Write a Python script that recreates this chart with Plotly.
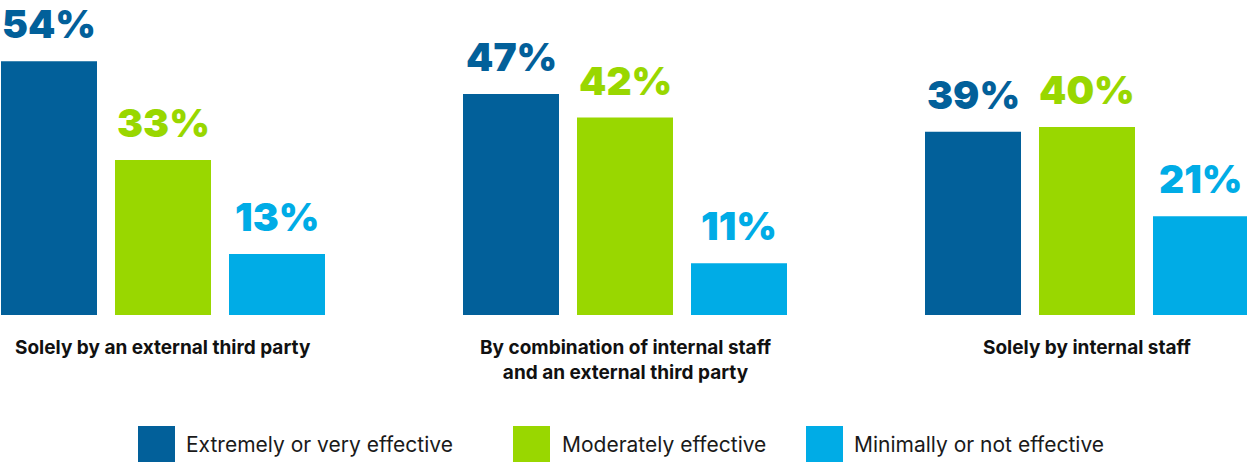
import plotly.graph_objects as go

# Survey results: how effective the approach is, by who carries it out
categories = [
    "Solely by an external third party",
    "By combination of internal staff<br>and an external third party",
    "Solely by internal staff",
]
series_names = ["Extremely or very effective", "Moderately effective", "Minimally or not effective"]
extremely_very = [54, 47, 39]
moderately = [33, 42, 40]
minimally_not = [13, 11, 21]
series_values = [extremely_very, moderately, minimally_not]
colors = ["#02609A", "#99D700", "#00ACE6"]

GROUP_PX = 462.0          # pixel distance between category centres
OFFSET = 114.0 / GROUP_PX  # centre-to-centre spacing of bars within a group
BAR_W = 96.0 / GROUP_PX
W, H = 1247, 462
BASE_Y = 315              # pixel row of the baseline
PX_PER_PCT = 4.70

fig = go.Figure()
annotations = []
for s, (name, vals, col) in enumerate(zip(series_names, series_values, colors)):
    xs = [i + (s - 1) * OFFSET for i in range(len(categories))]
    fig.add_trace(go.Bar(
        x=xs, y=vals, width=BAR_W, name=name,
        marker=dict(color=col, line=dict(width=0)),
        showlegend=False, hoverinfo="skip",
    ))
    for x, v in zip(xs, vals):
        annotations.append(dict(
            x=x, y=v, xref="x", yref="y", text=f"{v}%",
            showarrow=False, xanchor="center", yanchor="bottom", yshift=12,
            font=dict(family="Inter", size=39, color=col, weight=900),
        ))

# category labels under each group
for i, cat in enumerate(categories):
    annotations.append(dict(
        x=i, y=0, xref="x", yref="paper", text=f"<b>{cat}</b>",
        showarrow=False, xanchor="center", yanchor="top", yshift=-19,
        align="center",
        font=dict(family="Inter", size=19, color="#111111"),
    ))

# legend drawn as large swatches with labels
shapes = []
legend_sq_x = [138, 513, 806]
legend_txt_x = [184, 560, 852]
def py(p):
    return (BASE_Y - p) / BASE_Y
for name, col, sx, tx in zip(series_names, colors, legend_sq_x, legend_txt_x):
    shapes.append(dict(
        type="rect", xref="paper", yref="paper",
        x0=sx / W, x1=(sx + 37) / W, y0=py(463), y1=py(426),
        fillcolor=col, line=dict(width=0), layer="above",
    ))
    annotations.append(dict(
        x=tx / W, y=py(445), xref="paper", yref="paper", text=name,
        showarrow=False, xanchor="left", yanchor="middle",
        font=dict(family="Inter", size=21, color="#1a1a1a"),
    ))

x0 = -163.0 / GROUP_PX
fig.update_layout(
    width=W, height=H,
    margin=dict(l=0, r=0, t=0, b=H - BASE_Y, pad=0),
    paper_bgcolor="white", plot_bgcolor="white",
    barmode="overlay",
    xaxis=dict(range=[x0, x0 + W / GROUP_PX], showgrid=False, zeroline=False,
               showticklabels=False, showline=False, fixedrange=True),
    yaxis=dict(range=[0, BASE_Y / PX_PER_PCT], showgrid=False, zeroline=False,
               showticklabels=False, showline=False, fixedrange=True),
    annotations=annotations,
    shapes=shapes,
    showlegend=False,
)

fig.write_html("out.html")
